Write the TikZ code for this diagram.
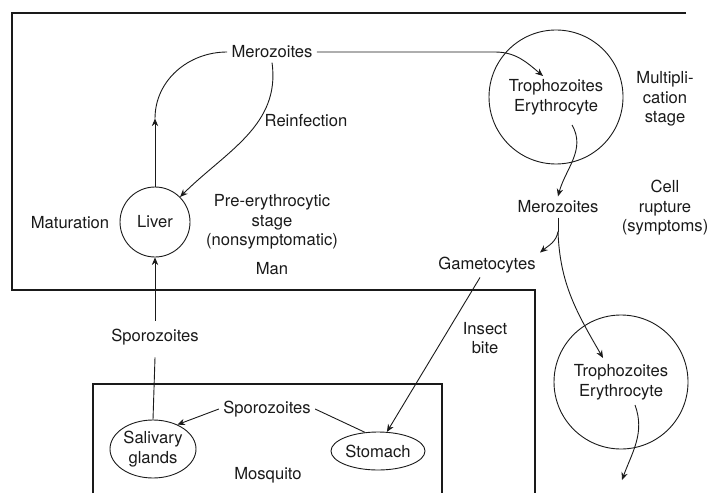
\documentclass[tikz,border=0pt]{standalone}
\usepackage{fontspec}
\setmainfont{TeX Gyre Heros}
\usetikzlibrary{arrows.meta,positioning,calc,shapes.geometric}
\definecolor{ink}{HTML}{1A1A1A}
\tikzset{
  every picture/.style={line width=0.45pt, color=ink, font=\fontsize{8.3}{9.8}\selectfont},
  lbl/.style={align=center, inner sep=2pt},
  cell/.style={draw=ink, circle, minimum size=67pt, inner sep=0pt, align=center},
  organ/.style={draw=ink, ellipse, inner sep=0pt, align=center},
  flow/.style={-{Stealth[length=3.8pt, width=3.2pt]}, draw=ink},
  border/.style={draw=ink, line width=0.75pt},
}

\begin{document}
\begin{tikzpicture}[x=0.5pt, y=0.5pt]
\useasboundingbox (0,0) rectangle (715,493);
% host and vector frames
\draw[border] (686,480) -- (12,480) -- (12,203) -- (535,203) -- (535,0);
\draw[border] (93,0) -- (93,109) -- (442,109) -- (442,0);
% man
\node[lbl] (merTop) at (272,441) {Merozoites};
\node[cell] (troph1) at (556,396) {Trophozoites\\Erythrocyte};
\node[lbl] (multi) at (665,394) {Multipli-\\cation\\stage};
\node[lbl] (merMid) at (558,286) {Merozoites};
\node[lbl] (rupture) at (665,285) {Cell\\rupture\\(symptoms)};
\node[lbl] (gameto) at (487,228) {Gametocytes};
\node[cell, minimum size=35pt] (liver) at (155,271) {Liver};
\node[lbl] (matur) at (70,270) {Maturation};
\node[lbl] (preEry) at (272,271) {Pre-erythrocytic\\stage\\(nonsymptomatic)};
\node[lbl] (man) at (272,224) {Man};
\node[lbl] (reinf) at (306,372) {Reinfection};
\node[lbl] (sporoMid) at (155,156) {Sporozoites};
\node[lbl] (insect) at (485,155) {Insect\\bite};
\node[cell] (troph2) at (621,111) {Trophozoites\\Erythrocyte};
\coordinate (tail) at (622,13);
% mosquito
\node[lbl] (sporoBox) at (267,84) {Sporozoites};
\node[organ, minimum width=43pt, minimum height=29pt] (salivary) at (153,44) {Salivary\\glands};
\node[organ, minimum width=47pt, minimum height=19pt] (stomach) at (378,42) {Stomach};
\node[lbl] (mosq) at (268,18) {Mosquito};
% cycle
\draw[flow] (merTop.east) -- ++(178,0) to[out=0,in=140] ($(troph1)+(-13,21)$);
\draw[flow] (merTop.south) to[out=-82,in=45] (liver.45);
\draw[flow] (liver.north) -- ++(0,68) coordinate (up);
\draw (up) to[out=90,in=180] (merTop.west);
\draw[flow] ([yshift=2pt]sporoMid.north) -- (liver.south);
\draw (salivary.north) -- ([yshift=-4pt]sporoMid.south);
\draw[flow] (sporoBox.west) -- (salivary.45);
\draw (stomach.125) -- (sporoBox.east);
\draw[flow] ([xshift=-3.5pt]gameto.south) -- (stomach.65);
\draw[flow] ($(troph1)+(16,-28)$) to[out=-60,in=75] (merMid.north);
\draw (merMid.south) -- ++(0,-14) coordinate (fork);
\draw[flow] (fork) to[out=-100,in=40] (gameto.north east);
\draw[flow] (fork) to[out=-88,in=120] ($(troph2)+(-18,24)$);
\draw[flow] ($(troph2)+(14,-23)$) to[out=-70,in=70] (tail);
\end{tikzpicture}
\end{document}
